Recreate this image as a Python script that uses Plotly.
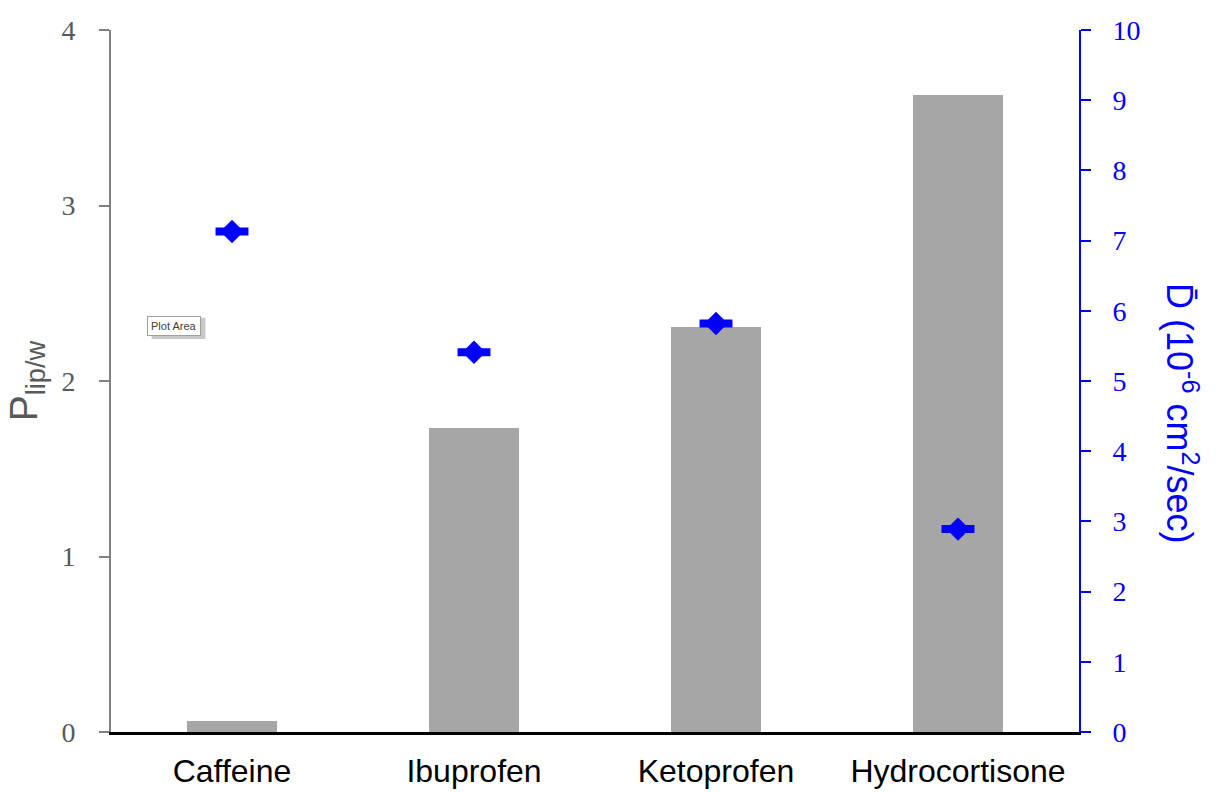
import plotly.graph_objects as go

# Data
drugs = ["Caffeine", "Ibuprofen", "Ketoprofen", "Hydrocortisone"]
partition = [0.06, 1.73, 2.31, 3.63]          # P_lip/w (left axis)
diffusion = [7.13, 5.41, 5.82, 2.89]          # mean D, 10^-6 cm^2/sec (right axis)
diffusion_err = [0.068, 0.068, 0.068, 0.068]  # horizontal whisker half-width (category units)

left_ticks = [0, 1, 2, 3, 4]
right_ticks = list(range(0, 11))

xpos = list(range(len(drugs)))

fig = go.Figure()

fig.add_trace(go.Bar(
    x=xpos, y=partition, width=0.372,
    marker=dict(color="#A6A6A6", line=dict(width=0)),
    yaxis="y", showlegend=False, hoverinfo="skip",
))

fig.add_trace(go.Scatter(
    x=xpos, y=diffusion, mode="markers", yaxis="y2",
    marker=dict(symbol="diamond", size=18, color="#0000FF", line=dict(width=0)),
    error_x=dict(type="data", array=diffusion_err, color="#0000FF", thickness=8, width=0),
    showlegend=False, hoverinfo="skip",
))

fig.update_layout(
    width=1216, height=792,
    margin=dict(l=111, r=137, t=30, b=60),
    plot_bgcolor="white", paper_bgcolor="white",
    bargap=0,
    xaxis=dict(
        range=[-0.5, 3.5], tickvals=xpos, ticktext=drugs,
        showline=True, linecolor="black", linewidth=3,
        ticks="", showgrid=False, zeroline=False, automargin=False,
        ticklabelstandoff=9,
        tickfont=dict(family="Liberation Sans, Arial", size=32, color="black"),
    ),
    yaxis=dict(
        range=[0, 4], tickvals=left_ticks,
        showline=True, linecolor="#808080", linewidth=2,
        ticks="outside", ticklen=10, tickwidth=2, tickcolor="#808080",
        showgrid=False, zeroline=False, automargin=False,
        ticklabelstandoff=18,
        tickfont=dict(family="Liberation Serif, Times New Roman", size=28, color="#595959"),
        title=dict(text="P<sub>lip/w</sub>",
                   font=dict(family="Liberation Sans, Arial", size=39, color="#595959"),
                   standoff=12),
    ),
    yaxis2=dict(
        range=[0, 10], tickvals=right_ticks, overlaying="y", side="right",
        showline=True, linecolor="#0000FF", linewidth=2,
        ticks="outside", ticklen=10, tickwidth=2, tickcolor="#0000FF",
        showgrid=False, zeroline=False, automargin=False,
        ticklabelstandoff=16,
        tickfont=dict(family="Liberation Serif, Times New Roman", size=28, color="#0000FF"),
    ),
)

# Right-axis title reads top to bottom
fig.add_annotation(
    xref="paper", yref="paper", x=1.107, y=0.455,
    text="D\u0304 (10<sup>-6</sup> cm<sup>2</sup>/sec)", textangle=90, showarrow=False,
    font=dict(family="Liberation Sans, Arial", size=36, color="#0000FF"),
    xanchor="center", yanchor="middle",
)

# Small "Plot Area" label box with drop shadow
fig.add_shape(type="rect", xref="paper", yref="paper",
              x0=0.042, x1=0.0975, y0=0.56, y1=0.59,
              fillcolor="#C8C8C8", line=dict(width=0), layer="above")
fig.add_annotation(
    xref="paper", yref="paper", x=0.0655, y=0.579,
    text="Plot Area", showarrow=False,
    font=dict(family="Liberation Sans, Arial", size=11, color="#404040"),
    bgcolor="white", bordercolor="#A0A0A0", borderwidth=1, borderpad=3,
    xanchor="center", yanchor="middle",
)

fig.write_html("out.html")
